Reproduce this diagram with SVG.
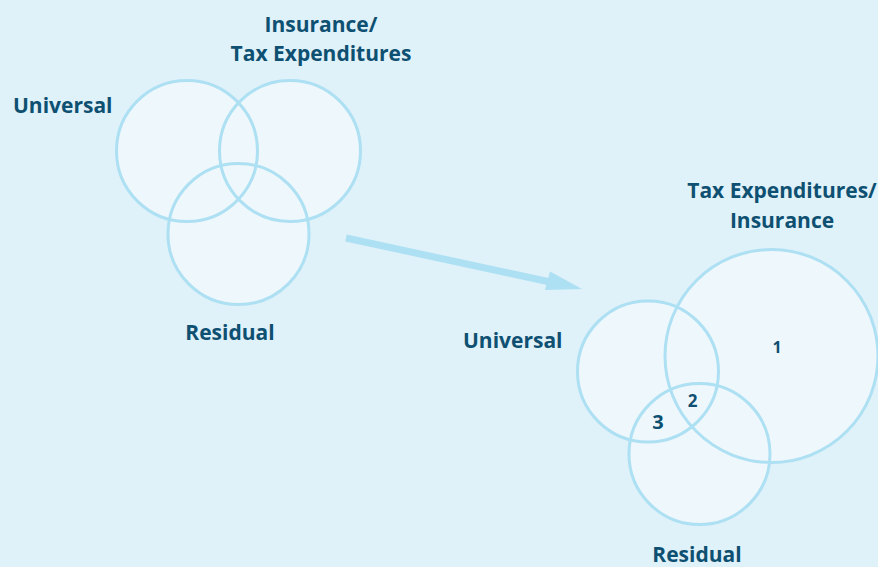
<svg xmlns="http://www.w3.org/2000/svg" width="878" height="567" viewBox="0 0 878 567">
  <defs>
    <style>
      .fillset { fill: #eef7fb; stroke: none; }
      .set { fill: none; stroke: #ade0f3; stroke-width: 3; }
      .lbl { font-family: "Open Sans", "Liberation Sans", sans-serif; font-weight: 700; fill: #0e5071; font-size: 21px; }
      .num { font-family: "Open Sans", "Liberation Sans", sans-serif; font-weight: 700; fill: #0e5071; }
      .mid { text-anchor: middle; }
    </style>
  </defs>
  <rect width="878" height="567" fill="#dff1f9"/>

  <!-- Pale interiors of all sets, painted under every outline -->
  <g id="set-fills">
    <circle class="fillset" cx="187" cy="151" r="70.5"/>
    <circle class="fillset" cx="290" cy="151" r="70.5"/>
    <circle class="fillset" cx="238.5" cy="234" r="70.5"/>
    <circle class="fillset" cx="771.5" cy="356" r="106.5"/>
    <circle class="fillset" cx="648" cy="371.5" r="70.5"/>
    <circle class="fillset" cx="699.5" cy="454" r="70.5"/>
  </g>

  <!-- Before: three equal sets -->
  <g id="left-universal">
    <circle class="set" cx="187" cy="151" r="70.5"/>
    <text class="lbl" x="13" y="113">Universal</text>
  </g>
  <g id="left-insurance">
    <circle class="set" cx="290" cy="151" r="70.5"/>
    <text class="lbl mid" x="321" y="32">Insurance/</text>
    <text class="lbl mid" x="321" y="61">Tax Expenditures</text>
  </g>
  <g id="left-residual">
    <circle class="set" cx="238.5" cy="234" r="70.5"/>
    <text class="lbl mid" x="230" y="340">Residual</text>
  </g>

  <!-- Transition arrow -->
  <g id="connectors">
    <line x1="346" y1="238" x2="550" y2="282" stroke="#ade0f3" stroke-width="7"/>
    <polygon points="582,289 550,271.5 545,290" fill="#ade0f3"/>
  </g>

  <!-- After: dominant tax expenditures/insurance set -->
  <g id="right-insurance">
    <circle class="set" cx="771.5" cy="356" r="106.5"/>
    <text class="lbl mid" x="782" y="198">Tax Expenditures/</text>
    <text class="lbl mid" x="782" y="228">Insurance</text>
  </g>
  <g id="right-universal">
    <circle class="set" cx="648" cy="371.5" r="70.5"/>
    <text class="lbl" x="463" y="348">Universal</text>
  </g>
  <g id="right-residual">
    <circle class="set" cx="699.5" cy="454" r="70.5"/>
    <text class="lbl mid" x="697" y="562">Residual</text>
  </g>
  <g id="region-labels">
    <text class="num mid" x="777" y="353" font-size="16">1</text>
    <text class="num mid" x="692.5" y="407" font-size="17">2</text>
    <text class="num mid" x="658" y="429" font-size="20">3</text>
  </g>
</svg>
